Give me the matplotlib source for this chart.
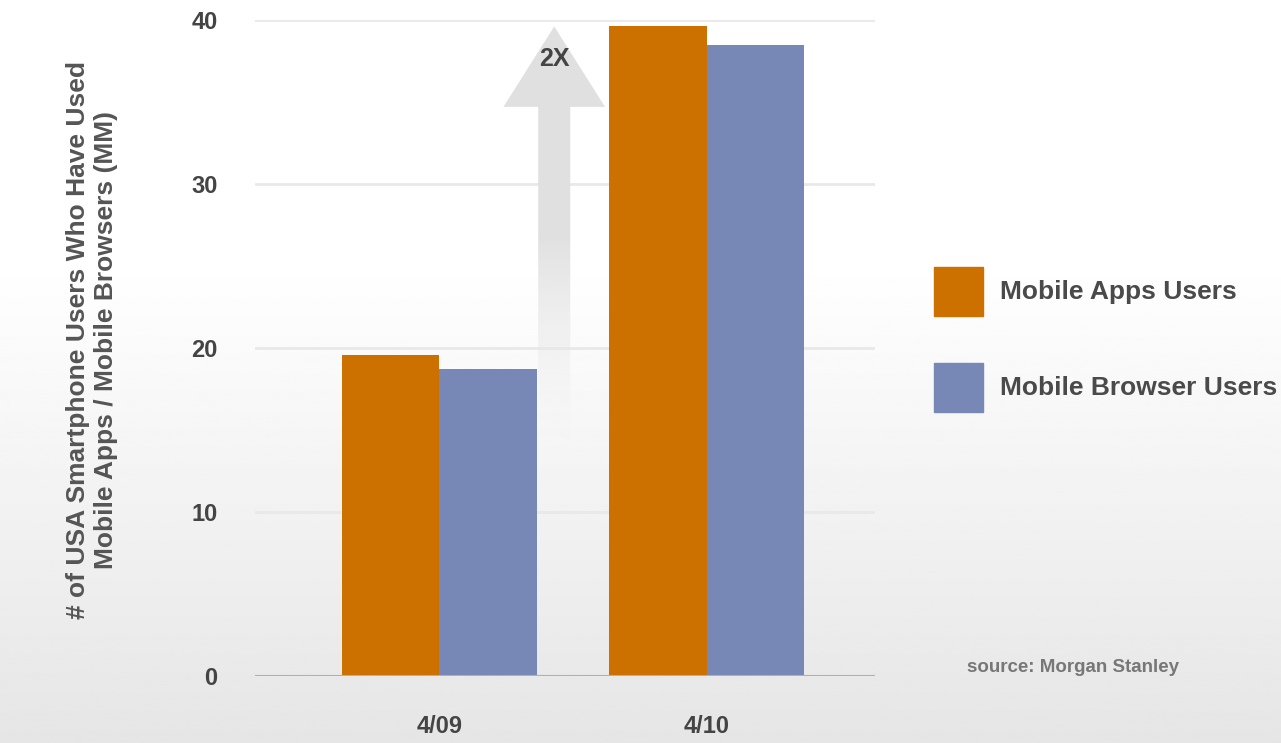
import numpy as np
import matplotlib.pyplot as plt
from matplotlib.patches import Rectangle, Polygon
from matplotlib.colors import LinearSegmentedColormap

# dados
periodos = ['4/09', '4/10']
series = ['Mobile Apps Users', 'Mobile Browser Users']
apps = [19.6, 39.6]
browser = [18.7, 38.5]
cores = ['#cc7000', '#7787b6']
yticks = [0, 10, 20, 30, 40]

plt.rcParams['font.family'] = ['Liberation Sans', 'DejaVu Sans']
plt.rcParams['font.weight'] = 'bold'

fig = plt.figure(figsize=(12.81, 7.43), dpi=100)

# fundo em degrade
bg = fig.add_axes([0, 0, 1, 1], zorder=-10)
grad = np.linspace(0, 1, 256).reshape(-1, 1)
grad = np.clip((grad - 0.35) / 0.65, 0, 1)
bg.imshow(1 - 0.10 * grad, cmap='gray', vmin=0, vmax=1, aspect='auto',
          extent=[0, 1, 0, 1], origin='upper')
bg.axis('off')

ax = fig.add_axes([0.199, 0.0902, 0.484, 0.883])
ax.patch.set_alpha(0)
x = np.arange(len(periodos))
w = 0.365

# seta "2X" com degrade
xa = 0.43
y0 = 14.4
ytop = apps[1]
hl = 4.9
sw = 0.06
hw = 0.19
seta = Polygon(list(zip([xa - sw, xa + sw, xa + sw, xa + hw, xa, xa - hw, xa - sw],
                        [y0, y0, ytop - hl, ytop - hl, ytop, ytop - hl, ytop - hl])),
               closed=True, facecolor='none', edgecolor='none')
ax.add_patch(seta)
cmap_seta = LinearSegmentedColormap.from_list('seta', [(0.88, 0.88, 0.88, 1.0),
                                                       (0.88, 0.88, 0.88, 1.0),
                                                       (0.93, 0.93, 0.93, 0.0)])
g = np.linspace(0, 1, 256).reshape(-1, 1)
im = ax.imshow(g, cmap=cmap_seta, aspect='auto', origin='upper',
               extent=[xa - hw, xa + hw, y0, ytop], zorder=1)
im.set_clip_path(seta)
ax.text(xa, ytop - 2.0, '2X', ha='center', va='center', fontsize=18,
        color='#444444', zorder=2)

ax.bar(x - w / 2, apps, w, color=cores[0], zorder=3, label=series[0])
ax.bar(x + w / 2, browser, w, color=cores[1], zorder=3, label=series[1])

for t in yticks[1:]:
    ax.axhline(t, color='#e9e9e9', lw=2, zorder=0)
ax.axhline(0, color='#b0b0b0', lw=1.5, zorder=4)

ax.set_xlim(-0.69, 1.63)
ax.set_ylim(0, 40)
ax.set_yticks(yticks)
ax.set_xticks(x)
ax.set_xticklabels(periodos)
ax.tick_params(length=0, labelsize=17, labelcolor='#444444')
ax.tick_params(axis='y', pad=27)
ax.tick_params(axis='x', pad=28)
for s in ax.spines.values():
    s.set_visible(False)

fig.text(92 / 1281, 1 - 340 / 743,
         '# of USA Smartphone Users Who Have Used\nMobile Apps / Mobile Browsers (MM)',
         rotation=90, ha='center', va='center', multialignment='center',
         fontsize=19, color='#555555', linespacing=1.2)

# legenda
for i, (nome, cor) in enumerate(zip(series, cores)):
    ytop_px = 267 + i * 96
    fig.add_artist(Rectangle((934 / 1281, 1 - (ytop_px + 49) / 743), 49 / 1281, 49 / 743,
                             transform=fig.transFigure, color=cor))
    fig.text(1000 / 1281, 1 - (ytop_px + 25) / 743, nome, ha='left', va='center',
             fontsize=19, color='#4a4a4a')

fig.text(967 / 1281, 1 - 668 / 743, 'source: Morgan Stanley', ha='left', va='center',
         fontsize=13.5, color='#777777')

plt.savefig('out.png', dpi=100)
